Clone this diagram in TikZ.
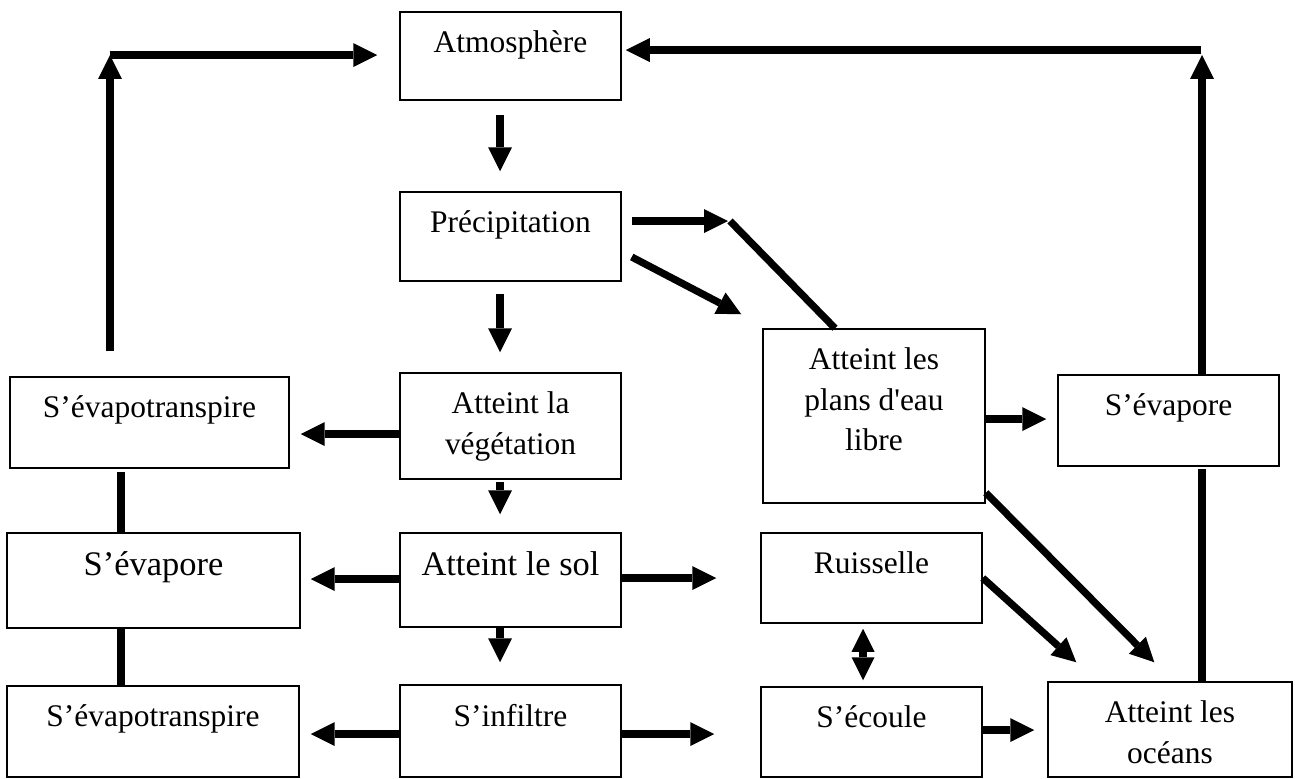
\documentclass[tikz,border=0pt]{standalone}
\usepackage{fontspec}
\setmainfont{Liberation Serif}
\usetikzlibrary{arrows.meta,calc,fit}

\tikzset{
  box/.style={draw, line width=0.03cm, inner sep=0pt},
  txt/.style={font=\fontsize{17.9pt}{23pt}\selectfont, align=center, inner sep=0pt, anchor=north, yshift=-0.39cm},
  bigtxt/.style={font=\fontsize{19.6pt}{24pt}\selectfont, align=center, inner sep=0pt, anchor=north, yshift=-0.37cm},
  flow/.style={line width=0.145cm},
  arr/.style={flow, -{Triangle[length=0.48cm, width=0.48cm, line width=0pt]}},
  dblarr/.style={flow, {Triangle[length=0.46cm, width=0.46cm, line width=0pt]}-{Triangle[length=0.46cm, width=0.46cm, line width=0pt]}}
}

\begin{document}
\begin{tikzpicture}[x=0.02cm, y=-0.02cm]
\useasboundingbox (0,0) rectangle (1295,778);

% colonne du milieu
\node[box, fit={(400,12) (621,100)}, label={[txt]north:Atmosphère}] (atmo) {};
\node[box, fit={(400,192) (621,281)}, label={[txt]north:Précipitation}] (prec) {};
\node[box, fit={(400,373) (621,479)}, label={[txt]north:Atteint la\\végétation}] (veg) {};
\node[box, fit={(400,533) (621,627)}, label={[bigtxt]north:Atteint le sol}] (sol) {};
\node[box, fit={(400,685) (621,777)}, label={[txt]north:S’infiltre}] (infil) {};
% colonne de gauche
\node[box, fit={(10,377) (289,468)}, label={[txt]north:S’évapotranspire}] (evtA) {};
\node[box, fit={(7,533) (300,628)}, label={[bigtxt]north:S’évapore}] (evpA) {};
\node[box, fit={(7,686) (299,777)}, label={[txt]north:S’évapotranspire}] (evtB) {};
% colonnes de droite
\node[box, fit={(763,329) (985,503)}, label={[txt]north:Atteint les\\plans d\textquotesingle eau\\libre}] (eau) {};
\node[box, fit={(761,533) (982,623)}, label={[txt]north:Ruisselle}] (ruis) {};
\node[box, fit={(761,687) (982,777)}, label={[txt]north:S’écoule}] (ecou) {};
\node[box, fit={(1058,375) (1279,466)}, label={[txt]north:S’évapore}] (evpB) {};
\node[box, fit={(1048,682) (1292,777)}, label={[txt]north:Atteint les\\océans}] (ocean) {};

\coordinate (coinG) at (110,55);
\coordinate (coinD) at (1202,50);
\coordinate (coude) at (730,221);

% retours vers l'atmosphere
\draw[arr] ($(coinG |- evtA.north)+(0,-25)$) -- (coinG);
\draw[arr] (coinG) -- ($(atmo.west |- coinG)+(-22,0)$);
\draw[arr] (coinD |- evpB.north) -- ($(coinD)+(0,5)$);
\draw[arr] ($(coinD)+(-1,0)$) -- ($(atmo.east |- coinD)+(4,0)$);
\draw[flow] ($(coinD |- evpB.south)+(0,2)$) -- (coinD |- ocean.north);

% vers le bas
\draw[arr] ($(atmo.south)+(-10.5,14)$) -- ($(prec.north)+(-10.5,-20)$);
\draw[arr] ($(prec.south)+(-10.5,12)$) -- ($(veg.north)+(-10.5,-20)$);
\draw[arr] ($(veg.south)+(-10.5,2)$) -- ($(sol.north)+(-10.5,-18)$);
\draw[arr] ($(sol.south)+(-10.5,0)$) -- ($(infil.north)+(-10.5,-22)$);

% vers la gauche
\draw[arr] ($(veg.west)+(0,8)$) -- ($(evtA.east |- veg.west)+(11,8)$);
\draw[arr] ($(sol.west)+(0,-1)$) -- ($(evpA.east |- sol.west)+(10,-1)$);
\draw[arr] ($(infil.west)+(0,3)$) -- ($(evtB.east |- infil.west)+(11,3)$);
\draw[flow] ($(evtA.south)+(-28.5,3)$) -- ($(evpA.north -| evtA.south)+(-28.5,0)$);
\draw[flow] ($(evpA.south -| evtA.south)+(-28.5,0)$) -- ($(evtB.north -| evtA.south)+(-28.5,0)$);

% vers la droite
\draw[arr] ($(prec.east |- coude)+(10,0)$) -- ($(coude)+(-2,0)$);
\draw[flow] (coude) -- ($(eau.north)+(-39,0)$);
\draw[arr] ($(prec.east)+(10,20.5)$) -- ($(eau.north west)+(-21,-14)$);
\draw[arr] ($(sol.east)+(0,-2)$) -- ($(ruis.west |- sol.east)+(-44,-2)$);
\draw[arr] ($(infil.east)+(0,3)$) -- ($(ecou.west |- infil.east)+(-46,3)$);
\draw[arr] ($(ecou.east)+(0,-2)$) -- ($(ocean.west |- ecou.east)+(-13,-2)$);
\draw[arr] ($(eau.east)+(0,3)$) -- ($(evpB.west |- eau.east)+(-11,3)$);
\draw[dblarr] ($(ruis.south)+(-8.5,5)$) -- ($(ecou.north -| ruis.south)+(-8.5,-6)$);
\draw[arr] (ruis.east) -- ($(ocean.north west)+(29,-19)$);
\draw[arr] ($(eau.south east)+(0,-11)$) -- ($(ocean.north west)+(107,-19)$);
\end{tikzpicture}
\end{document}
